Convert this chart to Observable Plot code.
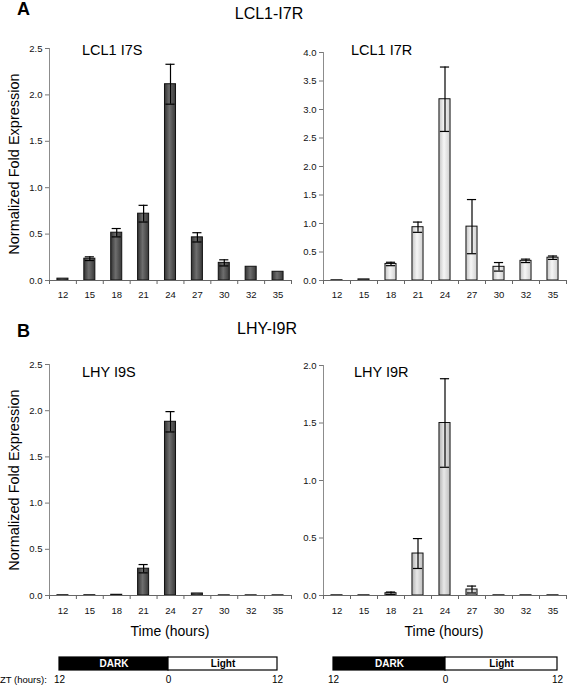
<!DOCTYPE html>
<html><head><meta charset="utf-8">
<script src="https://cdn.jsdelivr.net/npm/d3@7"></script>
<script src="https://cdn.jsdelivr.net/npm/@observablehq/plot@0.6"></script>
<style>
body{margin:0;background:#fff;}
#fig{position:relative;width:567px;height:685px;overflow:hidden;font-family:"Liberation Sans",Arial,Helvetica,sans-serif;color:#000;background:#fff;}
.t{position:absolute;white-space:nowrap;line-height:1;}
.p{position:absolute;}
.p svg{max-width:none !important;}
</style></head><body>
<svg width="0" height="0" style="position:absolute">
<defs>
<linearGradient id="gDark" x1="0" x2="1" y1="0" y2="0">
 <stop offset="0" stop-color="#333"/><stop offset="0.45" stop-color="#6e6e6e"/><stop offset="1" stop-color="#383838"/>
</linearGradient>
<linearGradient id="gLight" x1="0" x2="1" y1="0" y2="0">
 <stop offset="0" stop-color="#c4c4c4"/><stop offset="0.45" stop-color="#f6f6f6"/><stop offset="1" stop-color="#cfcfcf"/>
</linearGradient>
<linearGradient id="gMid" x1="0" x2="1" y1="0" y2="0">
 <stop offset="0" stop-color="#b0b0b0"/><stop offset="0.45" stop-color="#e8e8e8"/><stop offset="1" stop-color="#bdbdbd"/>
</linearGradient>
</defs></svg>
<div id="fig"></div>
<script>
// ---- data ----
const times = ["12","15","18","21","24","27","30","32","35"];

const lcl1I7S     = [0.02, 0.235, 0.515, 0.72, 2.115, 0.465, 0.19, 0.148, 0.094];
const lcl1I7S_err = [0,    0.02,  0.045, 0.09, 0.215, 0.05,  0.033, 0,    0];

const lcl1I7R     = [0.005, 0.02, 0.29, 0.935, 3.18, 0.945, 0.24, 0.345, 0.40];
const lcl1I7R_err = [0,     0,    0.03, 0.09,  0.565, 0.475, 0.075, 0.03, 0.03];

const lhyI9S      = [0.003, 0.003, 0.008, 0.29, 1.88, 0.022, 0.002, 0.002, 0.002];
const lhyI9S_err  = [0,     0,     0,     0.045, 0.11, 0,    0,     0,     0];

const lhyI9R      = [0.002, 0.002, 0.02, 0.365, 1.50, 0.052, 0.002, 0.002, 0.002];
const lhyI9R_err  = [0,     0,     0.01, 0.13,  0.385, 0.03, 0,     0,     0];

const yTicksA1 = [0, 0.5, 1.0, 1.5, 2.0, 2.5];
const yTicksA2 = [0, 0.5, 1.0, 1.5, 2.0, 2.5, 3.0, 3.5, 4.0];
const yTicksB1 = [0, 0.5, 1.0, 1.5, 2.0, 2.5];
const yTicksB2 = [0, 0.5, 1.0, 1.5, 2.0];

const phases = [
  {label: "DARK",  start: 0,  end: 12},
  {label: "Light", start: 12, end: 24}
];
const ztTicks  = [0, 12, 24];
const ztLabels = ["12", "0", "12"];

const FONT = '"Liberation Sans", Arial, Helvetica, sans-serif';
const fig = document.getElementById("fig");

function place(el, left, top) {
  const d = document.createElement("div");
  d.className = "p";
  d.style.left = left + "px";
  d.style.top = top + "px";
  d.appendChild(el);
  fig.appendChild(d);
}

function text(str, x, baseline, size, opts = {}) {
  const d = document.createElement("div");
  d.className = "t";
  d.textContent = str;
  d.style.fontSize = size + "px";
  if (opts.bold) d.style.fontWeight = "bold";
  const top = baseline - 0.8465 * size;
  d.style.top = top + "px";
  d.style.left = x + "px";
  if (opts.anchor === "middle") d.style.transform = "translateX(-50%)";
  fig.appendChild(d);
  return d;
}

function vtext(str, cx, cy, size) {
  const d = document.createElement("div");
  d.className = "t";
  d.textContent = str;
  d.style.fontSize = size + "px";
  d.style.left = cx + "px";
  d.style.top = cy + "px";
  d.style.transform = "translate(-50%,-50%) rotate(-90deg)";
  fig.appendChild(d);
}

function panel({values, errors, yMax, yTicks, fill, width, height, mL, mR, mT, mB, pad}) {
  const data = times.map((t, i) => ({i, t, v: values[i], e: errors[i]}));
  const errs = data.filter(d => d.e > 0);
  const bounds = d3.range(0, times.length + 1).map(k => k - 0.5);
  return Plot.plot({
    width, height,
    marginLeft: mL, marginRight: mR, marginTop: mT, marginBottom: mB,
    style: {background: "none", fontFamily: FONT, fontSize: "9.5px", color: "#111", overflow: "visible"},
    x: {type: "linear", domain: [-0.5, times.length - 0.5]},
    y: {domain: [0, yMax]},
    marks: [
      Plot.ruleX([-0.5], {stroke: "#8c8c8c", strokeWidth: 1}),
      Plot.axisY({ticks: yTicks, tickFormat: d3.format(".1f"), tickSize: 4, tickPadding: 3, stroke: "#777", label: null}),
      Plot.rect(data, {x1: d => d.i - 0.205, x2: d => d.i + 0.205, y1: d => 0, y2: "v", fill, stroke: "#111", strokeWidth: 1}),
      Plot.ruleX(errs, {x: "i", y1: d => d.v - d.e, y2: d => d.v + d.e, stroke: "#000", strokeWidth: 1.2}),
      Plot.ruleY(errs, {y: d => d.v + d.e, x1: d => d.i - 0.17, x2: d => d.i + 0.17, stroke: "#000", strokeWidth: 1.2}),
      Plot.ruleY(errs, {y: d => d.v - d.e, x1: d => d.i - 0.17, x2: d => d.i + 0.17, stroke: "#000", strokeWidth: 1.2}),
      Plot.ruleY([0], {stroke: "#666", strokeWidth: 1}),
      Plot.ruleX(bounds, {x: d => d, y1: d => 0, y2: d => 0, insetBottom: -4, stroke: "#666"}),
      Plot.axisX({ticks: data.map(d => d.i), tickFormat: i => times[i], tickSize: 0, tickPadding: pad, label: null})
    ]
  });
}

function ldBar(width, mL, mR) {
  return Plot.plot({
    width, height: 40,
    marginLeft: mL, marginRight: mR, marginTop: 7, marginBottom: 20,
    style: {background: "none", fontFamily: FONT, fontSize: "10px", color: "#000", overflow: "visible"},
    x: {domain: [0, 24]},
    marks: [
      Plot.rect(phases, {x1: "start", x2: "end", fill: d => d.label === "DARK" ? "#000" : "#fff", stroke: "#000", strokeWidth: 1.2}),
      Plot.text(phases, {x: d => (d.start + d.end) / 2, text: "label", fill: d => d.label === "DARK" ? "#fff" : "#000", fontWeight: "bold", fontSize: 10}),
      Plot.axisX({ticks: ztTicks, tickFormat: (d, i) => ztLabels[i], tickSize: 0, tickPadding: 5, label: null})
    ]
  });
}

// ---- panels ----
place(panel({values: lcl1I7S, errors: lcl1I7S_err, yMax: 2.5, yTicks: yTicksA1, fill: "url(#gDark)",
  width: 300, height: 262, mL: 49, mR: 9, mT: 8, mB: 22, pad: 11}), 0, 40);
place(panel({values: lcl1I7R, errors: lcl1I7R_err, yMax: 4.0, yTicks: yTicksA2, fill: "url(#gLight)",
  width: 287, height: 262, mL: 43, mR: 1, mT: 12, mB: 22, pad: 11}), 280, 40);
place(panel({values: lhyI9S, errors: lhyI9S_err, yMax: 2.5, yTicks: yTicksB1, fill: "url(#gDark)",
  width: 300, height: 262, mL: 49, mR: 9, mT: 9, mB: 22, pad: 12}), 0, 355);
place(panel({values: lhyI9R, errors: lhyI9R_err, yMax: 2.0, yTicks: yTicksB2, fill: "url(#gMid)",
  width: 287, height: 262, mL: 43, mR: 1, mT: 10, mB: 22, pad: 12}), 280, 355);

place(ldBar(290, 59, 13), 0, 650);
place(ldBar(287, 53, 10), 280, 650);

// ---- texts ----
text("A", 17, 15, 18, {bold: true});
text("LCL1-I7R", 269, 19.5, 16, {anchor: "middle"});
text("B", 17, 337, 18, {bold: true});
text("LHY-I9R", 267, 335, 16, {anchor: "middle"});

text("LCL1 I7S", 82, 55.5, 14.5);
text("LCL1 I7R", 351, 55.5, 14.5);
text("LHY I9S", 82, 377.5, 14.5);
text("LHY I9R", 354, 377.5, 14.5);

vtext("Normalized Fold Expression", 14, 164, 14.5);
vtext("Normalized Fold Expression", 14, 480, 14.5);

text("Time (hours)", 170, 636, 14, {anchor: "middle"});
text("Time (hours)", 444, 636, 14, {anchor: "middle"});

text("ZT (hours):", 0, 683, 9.5);
</script>
</body></html>
